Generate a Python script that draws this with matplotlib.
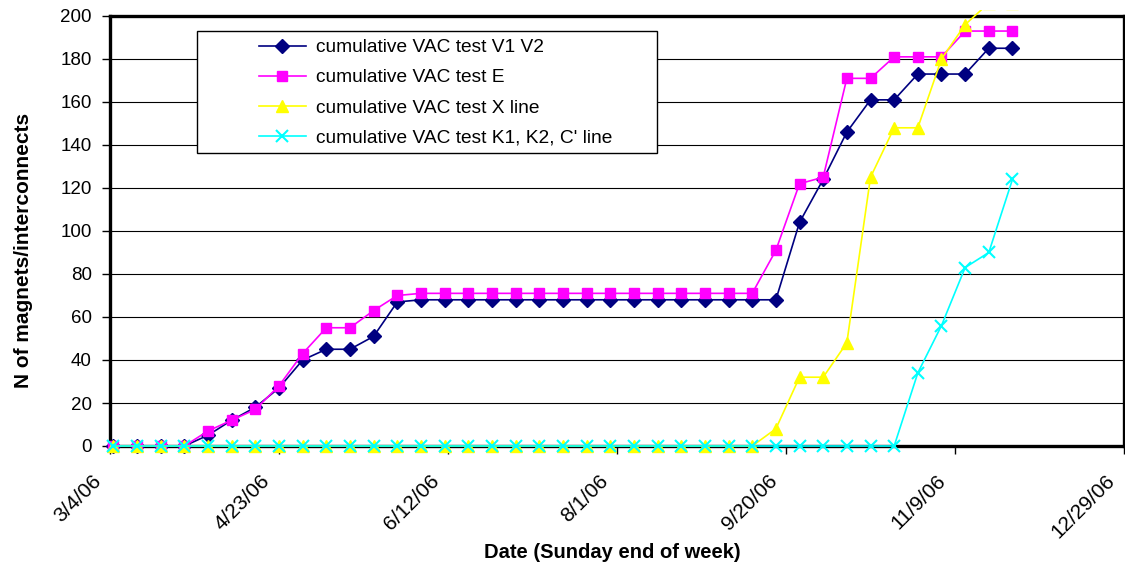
import datetime as dt
import matplotlib
matplotlib.use("Agg")
import matplotlib.pyplot as plt
import matplotlib.dates as mdates
from matplotlib.patches import Rectangle
from matplotlib.transforms import Bbox, TransformedBbox, ScaledTranslation

plt.rcParams['font.family'] = ['Liberation Sans', 'DejaVu Sans']

# weeks (Sunday end of week)
week_ends = [
    "2006-03-05", "2006-03-12", "2006-03-19", "2006-03-26",
    "2006-04-02", "2006-04-09", "2006-04-16", "2006-04-23", "2006-04-30",
    "2006-05-07", "2006-05-14", "2006-05-21", "2006-05-28",
    "2006-06-04", "2006-06-11", "2006-06-18", "2006-06-25",
    "2006-07-02", "2006-07-09", "2006-07-16", "2006-07-23", "2006-07-30",
    "2006-08-06", "2006-08-13", "2006-08-20", "2006-08-27",
    "2006-09-03", "2006-09-10", "2006-09-17", "2006-09-24",
    "2006-10-01", "2006-10-08", "2006-10-15", "2006-10-22", "2006-10-29",
    "2006-11-05", "2006-11-12", "2006-11-19", "2006-11-26",
]

vac_v1v2 = [0, 0, 0, 0, 5, 12, 18, 27, 40, 45, 45, 51, 67,
            68, 68, 68, 68, 68, 68, 68, 68, 68, 68, 68, 68, 68, 68, 68, 68,
            104, 124, 146, 161, 161, 173, 173, 173, 185, 185]
vac_e = [0, 0, 0, 0, 7, 12, 17, 28, 43, 55, 55, 63, 70,
         71, 71, 71, 71, 71, 71, 71, 71, 71, 71, 71, 71, 71, 71, 71,
         91, 122, 125, 171, 171, 181, 181, 181, 193, 193, 193]
vac_x = [0] * 28 + [8, 32, 32, 48, 125, 148, 148, 180, 196, 206, 206]
vac_k = [0] * 34 + [34, 56, 83, 90, 124]

series_labels = ["cumulative VAC test V1 V2", "cumulative VAC test E",
                 "cumulative VAC test X line", "cumulative VAC test K1, K2, C' line"]

tick_dates = ["2006-03-04", "2006-04-23", "2006-06-12", "2006-08-01",
              "2006-09-20", "2006-11-09", "2006-12-29"]

def to_num(s):
    return mdates.date2num(dt.datetime.strptime(s, "%Y-%m-%d"))

x = [to_num(d) for d in week_ends]
ticks = [to_num(d) for d in tick_dates]
tick_labels = []
for d in tick_dates:
    dd = dt.datetime.strptime(d, "%Y-%m-%d")
    tick_labels.append(f"{dd.month}/{dd.day}/{dd.strftime('%y')}")

fig = plt.figure(figsize=(11.25, 5.71), dpi=100)
ax = fig.add_axes([110 / 1125, 125 / 571, 1014 / 1125, 430 / 571])

styles = [
    dict(color="#000080", marker="D", ms=7),
    dict(color="#FF00FF", marker="s", ms=6.5),
    dict(color="#FFFF00", marker="^", ms=8),
    dict(color="#00FFFF", marker="x", ms=8, mew=1.5),
]
handles = []
for ys, st, lab in zip([vac_v1v2, vac_e, vac_x, vac_k], styles, series_labels):
    ln, = ax.plot(x, ys, color=st["color"], marker=st["marker"], ms=st["ms"],
                  mew=st.get("mew", 1), mec=st["color"], mfc=st["color"],
                  lw=1.2, label=lab, zorder=3, clip_on=False)
    handles.append(ln)

# yellow line runs a bit beyond the plot top, like the original
clip = TransformedBbox(Bbox.from_bounds(-0.05, -0.05, 1.1, 1.064), ax.transAxes)
handles[2].set_clip_on(True)
handles[2].set_clip_box(clip)

ax.set_xlim(to_num("2006-03-04"), to_num("2006-12-29"))
ax.set_ylim(0, 200)
ax.set_yticks(range(0, 201, 20))
ax.set_xticks(ticks)
ax.set_xticklabels(tick_labels, rotation=45, ha="right", va="center",
                   rotation_mode="anchor", fontsize=15)
ax.tick_params(axis="y", labelsize=13.5, pad=7)
ax.tick_params(axis="both", direction="out", length=6, width=1, color="black")
ax.tick_params(axis="x", pad=17)
shift = ScaledTranslation(-12 / 100, 0, fig.dpi_scale_trans)
for lbl in ax.get_xticklabels():
    lbl.set_transform(lbl.get_transform() + shift)

ax.grid(axis="y", color="black", lw=0.8)
ax.set_axisbelow(True)
for sp in ax.spines.values():
    sp.set_linewidth(2.4)
    sp.set_color("black")

ax.set_xlabel("Date (Sunday end of week)", fontsize=14.5, fontweight="bold")
ax.set_ylabel("N of magnets/interconnects", fontsize=15, fontweight="bold")
ax.xaxis.set_label_coords(0.495, -0.225)
ax.yaxis.set_label_coords(-0.076, 0.455)

# legend box
fig.add_artist(Rectangle((197 / 1125, (571 - 153) / 571), 460 / 1125, 122 / 571,
                         transform=fig.transFigure, facecolor="white",
                         edgecolor="black", lw=1, zorder=4))
fig.legend(handles=handles, loc="upper left",
           bbox_to_anchor=(259 / 1125, (571 - 39) / 571), frameon=False,
           fontsize=13.8, handlelength=2.45, handletextpad=0.55,
           labelspacing=0.66, borderpad=0, borderaxespad=0)

fig.savefig("out.png", dpi=100)
